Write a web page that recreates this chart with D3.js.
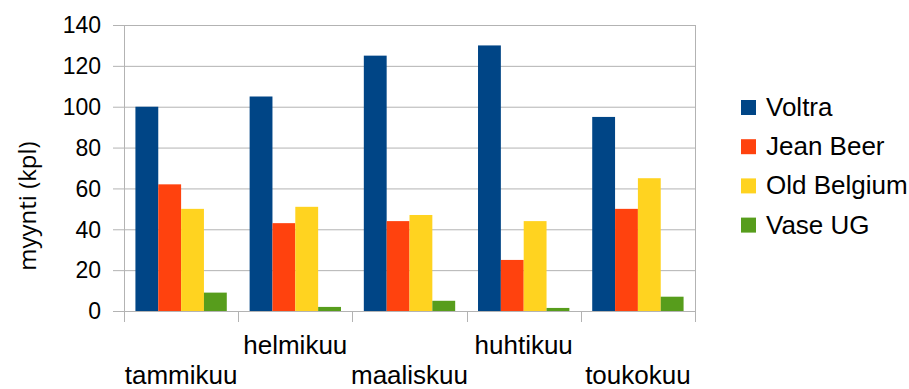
<!DOCTYPE html>
<html>
<head>
<meta charset="utf-8">
<script src="https://cdn.jsdelivr.net/npm/d3@7"></script>
<style>
  html, body { margin: 0; padding: 0; background: #fff; }
  svg { display: block; font-family: "Liberation Sans", Arial, sans-serif; }
</style>
</head>
<body>
<svg id="chart" width="909" height="389"></svg>
<script>
// Monthly sales (thousand units) per product
const months = ["tammikuu", "helmikuu", "maaliskuu", "huhtikuu", "toukokuu"];
const seriesNames = ["Voltra", "Jean Beer", "Old Belgium", "Vase UG"];
const voltra     = [100, 105, 125, 130, 95];
const jeanBeer   = [62, 43, 44, 25, 50];
const oldBelgium = [50, 51, 47, 44, 65];
const vaseUG     = [9, 2, 5, 1.5, 7];
const colors = ["#004586", "#ff420e", "#ffd320", "#579d1c"];
const yTicks = [0, 20, 40, 60, 80, 100, 120, 140];
const yTitle = "myynti (kpl)";

const seriesValues = [voltra, jeanBeer, oldBelgium, vaseUG];

const svg = d3.select("#chart");
const plot = { left: 124, right: 695, top: 25, bottom: 311 };

const x = d3.scaleBand().domain(months).range([plot.left, plot.right]).paddingInner(0).paddingOuter(0);
const inner = d3.scaleBand().domain(seriesNames).range([x.bandwidth() * 0.1, x.bandwidth() * 0.9]);
const y = d3.scaleLinear().domain([0, 140]).range([plot.bottom, plot.top]);

const gridColor = "#b3b3b3";

// horizontal grid lines, extended left as tick marks
svg.append("g").selectAll("line").data(yTicks).join("line")
  .attr("x1", plot.left - 11).attr("x2", plot.right)
  .attr("y1", d => y(d) + 0.5).attr("y2", d => y(d) + 0.5)
  .attr("stroke", gridColor).attr("stroke-width", 1);

// vertical axis line and right border
svg.append("line").attr("x1", plot.left + 0.5).attr("x2", plot.left + 0.5)
  .attr("y1", plot.top).attr("y2", plot.bottom + 11).attr("stroke", gridColor);
svg.append("line").attr("x1", plot.right + 0.5).attr("x2", plot.right + 0.5)
  .attr("y1", plot.top).attr("y2", plot.bottom + 11).attr("stroke", gridColor);

// category boundary ticks below the axis
const bounds = months.map(m => x(m)).concat([plot.right]);
svg.append("g").selectAll("line").data(bounds).join("line")
  .attr("x1", d => Math.round(d) + 0.5).attr("x2", d => Math.round(d) + 0.5)
  .attr("y1", plot.bottom).attr("y2", plot.bottom + 11)
  .attr("stroke", gridColor);

// bars
const rows = months.map((m, i) => ({ month: m, values: seriesNames.map((s, j) => ({ s, j, v: seriesValues[j][i] })) }));
svg.append("g").selectAll("g").data(rows).join("g")
  .attr("transform", d => `translate(${x(d.month)},0)`)
  .selectAll("rect").data(d => d.values).join("rect")
  .attr("x", d => inner(d.s))
  .attr("width", inner.bandwidth())
  .attr("y", d => y(d.v))
  .attr("height", d => y(0) - y(d.v))
  .attr("fill", d => colors[d.j]);

// y tick labels
svg.append("g").selectAll("text").data(yTicks).join("text")
  .attr("x", 101).attr("y", d => y(d))
  .attr("dy", "0.36em")
  .attr("text-anchor", "end")
  .attr("font-size", 23)
  .attr("fill", "#000")
  .text(d => d);

// category labels, staggered on two rows
svg.append("g").selectAll("text").data(months).join("text")
  .attr("x", d => x(d) + x.bandwidth() / 2)
  .attr("y", (d, i) => i % 2 === 0 ? 384 : 354)
  .attr("text-anchor", "middle")
  .attr("font-size", 26)
  .attr("fill", "#000")
  .text(d => d);

// y axis title
svg.append("text")
  .attr("transform", "translate(36,206) rotate(-90)")
  .attr("text-anchor", "middle")
  .attr("font-size", 24)
  .attr("font-family", "'Open Sans', sans-serif")
  .attr("fill", "#000")
  .text(yTitle);

// legend
const legend = svg.append("g").selectAll("g").data(seriesNames).join("g")
  .attr("transform", (d, i) => `translate(741,${100 + i * 39.2})`);
legend.append("rect").attr("width", 15).attr("height", 15).attr("fill", (d, i) => colors[i]);
legend.append("text").attr("x", 25).attr("y", 16)
  .attr("font-size", 26).attr("fill", "#000").text(d => d);
</script>
</body>
</html>
